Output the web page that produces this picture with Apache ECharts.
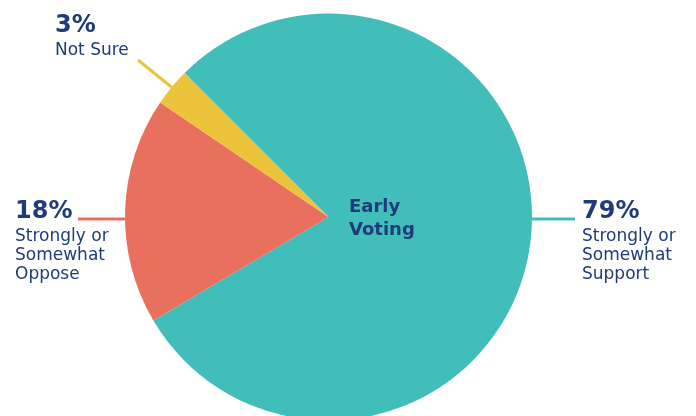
<!DOCTYPE html>
<html>
<head>
<meta charset="utf-8">
<script src="https://cdn.jsdelivr.net/npm/echarts@6/dist/echarts.min.js"></script>
<style>html,body{margin:0;padding:0;background:#fff}#c{width:696px;height:416px}</style>
</head>
<body>
<div id="c"></div>
<script>
// Data
const categories = ['Strongly or\nSomewhat\nSupport', 'Strongly or\nSomewhat\nOppose', 'Not Sure'];
const values = [79, 18, 3];
const colors = ['#41BEBA', '#E96F5F', '#ECC43B'];
const centerTitle = 'Early\nVoting';

// Layout
const CX = 328.5, CY = 217, R = 203.5;
const NAVY = '#1f3b7b';

const chart = echarts.init(document.getElementById('c'));

function labelPos(idx) {
  if (idx === 0) {
    return { x: 582, y: 197, line: [[CX + R, 219], [575, 219]] };
  } else if (idx === 1) {
    return { x: 15, y: 197, line: [[CX - R, 219], [78, 219]] };
  } else {
    // mid angle of the slice (startAngle 135, clockwise)
    const total = values.reduce((a, b) => a + b, 0);
    const before = values.slice(0, idx).reduce((a, b) => a + b, 0);
    const mid = 135 - (before + values[idx] / 2) / total * 360;
    const rad = mid * Math.PI / 180;
    const ex = CX + R * Math.cos(rad), ey = CY - R * Math.sin(rad);
    return { x: 55, y: 11, line: [[ex, ey], [138, 60]] };
  }
}

chart.setOption({
  animation: false,
  title: {
    text: centerTitle,
    left: 349,
    top: 196,
    padding: 0,
    textStyle: { color: NAVY, fontFamily: 'DejaVu Sans', fontWeight: 'bold', fontSize: 18, lineHeight: 23 }
  },
  series: [{
    type: 'pie',
    center: [CX, CY],
    radius: R,
    startAngle: 135,
    clockwise: true,
    silent: true,
    emphasis: { disabled: true },
    data: categories.map((c, i) => ({ name: c, value: values[i], itemStyle: { color: colors[i] } })),
    label: {
      show: true,
      position: 'outside',
      overflow: 'none',
      formatter: p => '{p|' + p.value + '%}\n' + p.name.split('\n').map(s => '{t|' + s + '}').join('\n'),
      rich: {
        p: { fontFamily: 'DejaVu Sans', fontWeight: 'bold', fontSize: 24, lineHeight: 30, color: NAVY },
        t: { fontFamily: 'DejaVu Sans', fontSize: 17, lineHeight: 19, color: NAVY }
      }
    },
    labelLine: { show: true, length: 20, length2: 20, smooth: false, lineStyle: { width: 3 } },
    labelLayout: function (params) {
      const lp = labelPos(params.dataIndex);
      return { x: lp.x, y: lp.y, align: 'left', verticalAlign: 'top', labelLinePoints: lp.line };
    }
  }]
});
</script>
</body>
</html>
